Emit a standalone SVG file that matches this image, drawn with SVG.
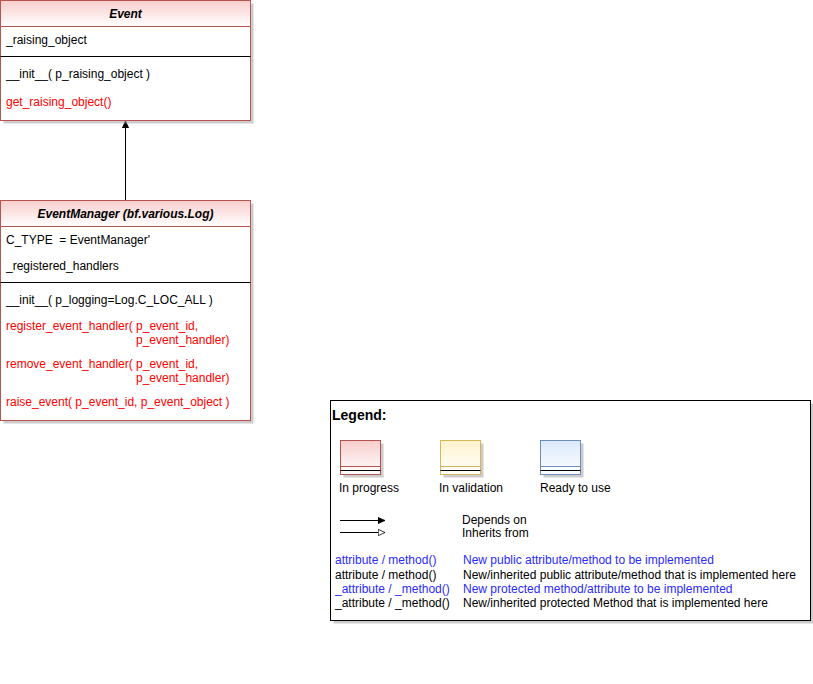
<svg xmlns="http://www.w3.org/2000/svg" width="813" height="684" viewBox="0 0 813 684">
<defs>
<linearGradient id="gRed" x1="0" y1="0" x2="0" y2="1"><stop offset="0" stop-color="#f8cecc"/><stop offset="1" stop-color="#ffffff"/></linearGradient>
<linearGradient id="gYel" x1="0" y1="0" x2="0" y2="1"><stop offset="0" stop-color="#fff2cc"/><stop offset="1" stop-color="#ffffff"/></linearGradient>
<linearGradient id="gBlu" x1="0" y1="0" x2="0" y2="1"><stop offset="0" stop-color="#dae8fc"/><stop offset="1" stop-color="#ffffff"/></linearGradient>
<marker id="aFill" viewBox="0 0 10 10" refX="9" refY="5" markerWidth="8" markerHeight="8" orient="auto" markerUnits="userSpaceOnUse"><path d="M0,1 L9,5 L0,9 Z" fill="#000" stroke="#000"/></marker>
<marker id="aOpen" viewBox="0 0 10 10" refX="9" refY="5" markerWidth="8" markerHeight="8" orient="auto" markerUnits="userSpaceOnUse"><path d="M0.5,1 L9,5 L0.5,9 Z" fill="#fff" stroke="#000"/></marker>
</defs>
<style>
text{font-family:"Liberation Sans",Arial,sans-serif;font-size:12px;fill:#000}
.title{font-weight:bold;font-style:italic;text-anchor:middle}
.red{fill:#ff0000}
.blue{fill:#2a2aff}
.shadow{fill:#999;opacity:0.5}
.box{fill:#fff;stroke:#b85450;stroke-width:1}
.sep{stroke:#000;stroke-width:1}
</style>
<g id="connectors">
<line x1="125.5" y1="200" x2="125.5" y2="121" stroke="#000" stroke-width="1" marker-end="url(#aFill)"/>
</g>
<g id="Event">
<rect class="shadow" x="3.5" y="3.5" width="250" height="120"/>
<rect class="box" x="0.5" y="0.5" width="250" height="120"/>
<path d="M0.5,26.5 V0.5 H250.5 V26.5 Z" fill="url(#gRed)" stroke="#b85450"/>
<text class="title" x="125.5" y="18">Event</text>
<text x="6" y="44">_raising_object</text>
<line class="sep" x1="0.5" y1="56.5" x2="250.5" y2="56.5"/>
<text x="6" y="78">__init__( p_raising_object )</text>
<text class="red" x="6" y="106">get_raising_object()</text>
</g>
<g id="EventManager">
<rect class="shadow" x="3.5" y="203.5" width="250" height="220"/>
<rect class="box" x="0.5" y="200.5" width="250" height="220"/>
<path d="M0.5,226.5 V200.5 H250.5 V226.5 Z" fill="url(#gRed)" stroke="#b85450"/>
<text class="title" x="125.5" y="218">EventManager (bf.various.Log)</text>
<text x="6" y="244">C_TYPE &#160;= EventManager'</text>
<text x="6" y="270">_registered_handlers</text>
<line class="sep" x1="0.5" y1="282.5" x2="250.5" y2="282.5"/>
<text x="6" y="304">__init__( p_logging=Log.C_LOC_ALL )</text>
<text class="red" x="6" y="330">register_event_handler( p_event_id,</text>
<text class="red" x="136" y="344">p_event_handler)</text>
<text class="red" x="6" y="368">remove_event_handler( p_event_id,</text>
<text class="red" x="136" y="382">p_event_handler)</text>
<text class="red" x="6" y="406">raise_event( p_event_id, p_event_object )</text>
</g>
<g id="Legend">
<rect class="shadow" x="333.5" y="403.5" width="480" height="220"/>
<rect x="330.5" y="400.5" width="480" height="220" fill="#fff" stroke="#000"/>
<text x="332" y="420" style="font-weight:bold;font-size:14px">Legend:</text>
<rect class="shadow" x="343.5" y="443.5" width="40" height="34"/>
<rect x="340.5" y="440.5" width="40" height="34" fill="url(#gRed)" stroke="#b85450"/>
<line x1="340.5" y1="466.5" x2="380.5" y2="466.5" stroke="#b85450"/>
<line x1="340.5" y1="470.5" x2="380.5" y2="470.5" stroke="#000"/>
<text x="339" y="492">In progress</text>
<rect class="shadow" x="443.5" y="443.5" width="40" height="34"/>
<rect x="440.5" y="440.5" width="40" height="34" fill="url(#gYel)" stroke="#d6b656"/>
<line x1="440.5" y1="466.5" x2="480.5" y2="466.5" stroke="#d6b656"/>
<line x1="440.5" y1="470.5" x2="480.5" y2="470.5" stroke="#000"/>
<text x="439" y="492">In validation</text>
<rect class="shadow" x="543.5" y="443.5" width="40" height="34"/>
<rect x="540.5" y="440.5" width="40" height="34" fill="url(#gBlu)" stroke="#6c8ebf"/>
<line x1="540.5" y1="466.5" x2="580.5" y2="466.5" stroke="#6c8ebf"/>
<line x1="540.5" y1="470.5" x2="580.5" y2="470.5" stroke="#000"/>
<text x="540" y="492">Ready to use</text>
<line x1="340" y1="520.5" x2="385" y2="520.5" stroke="#000" marker-end="url(#aFill)"/>
<line x1="340" y1="532.5" x2="385" y2="532.5" stroke="#000" marker-end="url(#aOpen)"/>
<text x="462" y="524">Depends on</text>
<text x="462" y="537">Inherits from</text>
<text class="blue" x="335" y="564">attribute / method()</text>
<text class="blue" x="463" y="564">New public attribute/method to be implemented</text>
<text x="335" y="579">attribute / method()</text>
<text x="463" y="579">New/inherited public attribute/method that is implemented here</text>
<text class="blue" x="335" y="593">_attribute / _method()</text>
<text class="blue" x="463" y="593">New protected method/attribute to be implemented</text>
<text x="335" y="607">_attribute / _method()</text>
<text x="463" y="607">New/inherited protected Method that is implemented here</text>
</g>
</svg>
